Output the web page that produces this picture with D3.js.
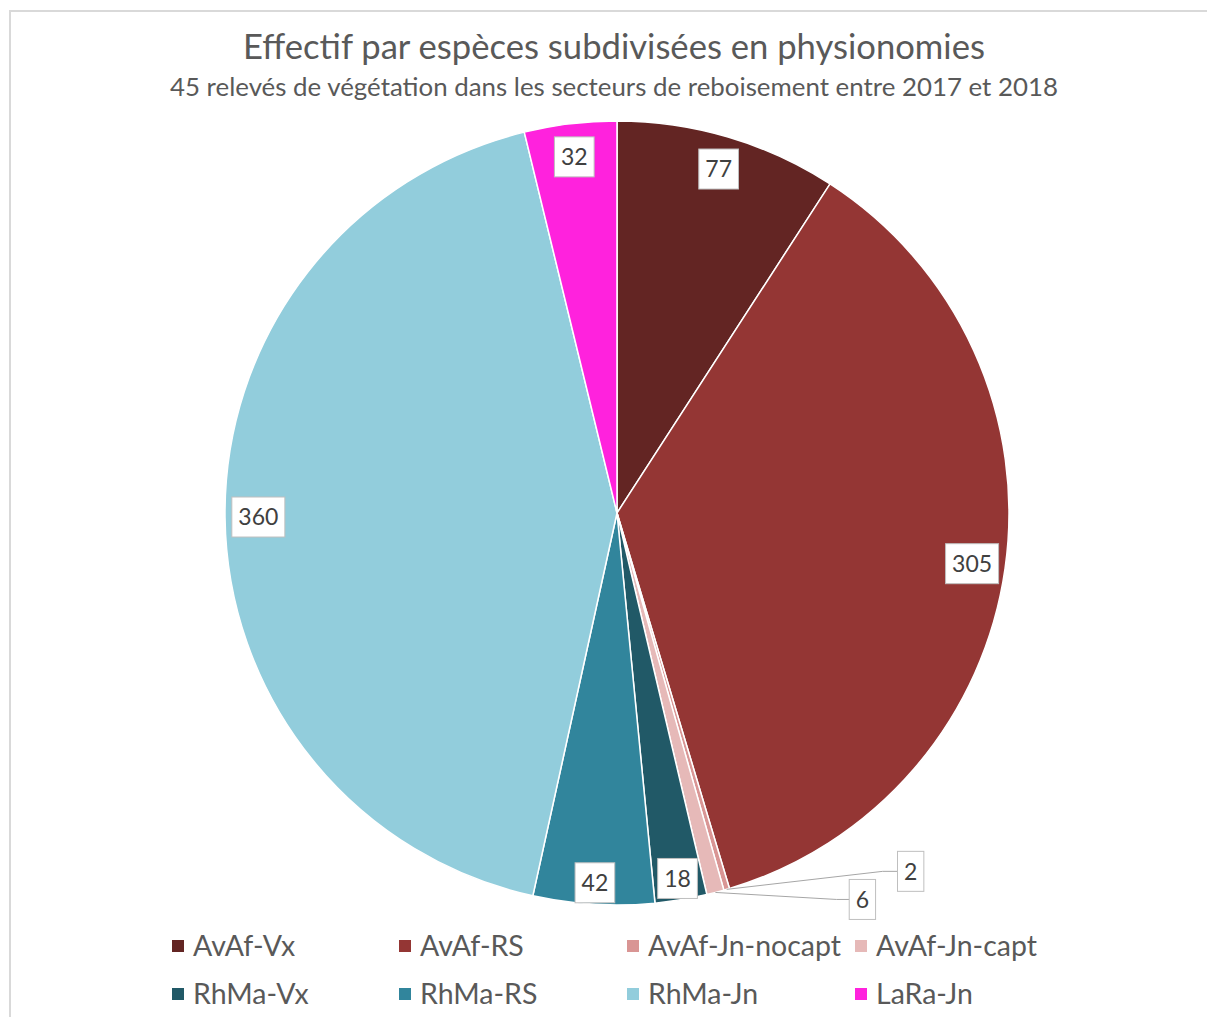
<!DOCTYPE html>
<html>
<head>
<meta charset="utf-8">
<script src="https://cdn.jsdelivr.net/npm/d3@7/dist/d3.min.js"></script>
<style>
  html, body { margin: 0; padding: 0; background: #fff; }
  svg { display: block; font-family: Lato, "Open Sans", sans-serif; }
</style>
</head>
<body>
<div id="chart"></div>
<script>
// Data (clockwise from 12 o'clock)
var categories = ["AvAf-Vx", "AvAf-RS", "AvAf-Jn-nocapt", "AvAf-Jn-capt",
                  "RhMa-Vx", "RhMa-RS", "RhMa-Jn", "LaRa-Jn"];
var values = [77, 305, 2, 6, 18, 42, 360, 32];
var colors = ["#632523", "#943634", "#d99594", "#e6b9b8",
              "#215967", "#31859c", "#92cddc", "#ff22dd"];

var title = "Effectif par espèces subdivisées en physionomies";
var subtitle = "45 relevés de végétation dans les secteurs de reboisement entre 2017 et 2018";

var width = 1207,
    height = 1017,
    cx = 617, cy = 513,
    radius = 392;

var svg = d3.select("#chart")
  .append("svg")
  .attr("width", width)
  .attr("height", height);

// chart area border (cropped on right/bottom)
svg.append("rect")
  .attr("x", 10).attr("y", 11)
  .attr("width", 1400).attr("height", 1200)
  .style("fill", "none")
  .style("stroke", "#d9d9d9")
  .style("stroke-width", 2);

// shrink/grow font so a text spans a given width
function fitWidth(sel, target) {
  var fs = parseFloat(sel.style("font-size"));
  var w = sel.node().getComputedTextLength();
  sel.style("font-size", (fs * target / w) + "px");
}

var t1 = svg.append("text")
  .attr("x", 614).attr("y", 59)
  .attr("text-anchor", "middle")
  .style("fill", "#595959")
  .style("font-size", "28px")
  .text(title);
fitWidth(t1, 742);

var t2 = svg.append("text")
  .attr("x", 614).attr("y", 96)
  .attr("text-anchor", "middle")
  .style("fill", "#595959")
  .style("font-size", "21px")
  .text(subtitle);
fitWidth(t2, 888);

var data = categories.map(function(c, i) {
  return {name: c, value: values[i], color: colors[i]};
});

var pie = d3.pie()
  .sort(null)
  .value(function(d) { return d.value; });

var arcs = pie(data);

var arc = d3.arc()
  .innerRadius(0)
  .outerRadius(radius);

var g = svg.append("g")
  .attr("transform", "translate(" + cx + "," + cy + ")");

g.selectAll("path.slice")
  .data(arcs)
  .enter()
  .append("path")
  .attr("class", "slice")
  .attr("d", arc)
  .style("fill", function(d) { return d.data.color; })
  .style("stroke", "#fff")
  .style("stroke-width", 1.5);

// data labels
var labelArc = d3.arc().innerRadius(radius * 0.915).outerRadius(radius * 0.915);
var narrowArc = d3.arc().innerRadius(radius * 0.945).outerRadius(radius * 0.945);
var edgeArc = d3.arc().innerRadius(radius).outerRadius(radius);

// outside labels for tiny slices: offset of label box from slice edge
var outsideShift = {2: [184, -18], 3: [147, 7]};
var outsideBend = {2: [-15, 0], 3: [-13, 0]};

function drawLabel(x, y, txt) {
  var lg = g.append("g").attr("transform", "translate(" + x + "," + y + ")");
  var tx = lg.append("text")
    .attr("text-anchor", "middle")
    .attr("dy", "0.36em")
    .style("fill", "#404040")
    .style("font-size", "23px")
    .text(txt);
  var w = tx.node().getComputedTextLength() + 13;
  lg.insert("rect", "text")
    .attr("x", -w / 2).attr("y", -20)
    .attr("width", w).attr("height", 40)
    .style("fill", "#fff")
    .style("stroke", "#bfbfbf")
    .style("stroke-width", 1);
  return w;
}

arcs.forEach(function(d, i) {
  if (outsideShift[i]) {
    var e = edgeArc.centroid(d);
    var lx = e[0] + outsideShift[i][0], ly = e[1] + outsideShift[i][1];
    var bw = String(d.data.value).length * 13 + 13;
    g.append("polyline")
      .attr("points", [e, [lx - bw / 2 + outsideBend[i][0], ly + outsideBend[i][1]], [lx - bw / 2, ly]].join(" "))
      .style("fill", "none")
      .style("stroke", "#a6a6a6")
      .style("stroke-width", 1);
    drawLabel(lx, ly, d.data.value);
  } else {
    // slices pointing downward get their label a bit closer to the rim
    var down = Math.cos((d.startAngle + d.endAngle) / 2) < -0.9;
    var c = (down ? narrowArc : labelArc).centroid(d);
    drawLabel(c[0], c[1], d.data.value);
  }
});

// legend
var legCols = [172, 399, 627, 855],
    legRows = [946, 994];

var leg = svg.append("g").attr("class", "legend");

data.forEach(function(d, i) {
  var x = legCols[i % 4], y = legRows[Math.floor(i / 4)];
  leg.append("rect")
    .attr("x", x).attr("y", y - 6)
    .attr("width", 12).attr("height", 12)
    .style("fill", d.color);
  leg.append("text")
    .attr("class", "legtext")
    .attr("x", x + 21).attr("y", y)
    .attr("dy", "0.36em")
    .style("fill", "#595959")
    .style("font-size", "24px")
    .text(d.name);
});

// size legend font from the widest entry
var probe = leg.selectAll("text.legtext").filter(function() {
  return d3.select(this).text() === "AvAf-Jn-nocapt";
});
var lfs = 24 * 193 / probe.node().getComputedTextLength();
leg.selectAll("text.legtext").style("font-size", lfs + "px");
</script>
</body>
</html>
